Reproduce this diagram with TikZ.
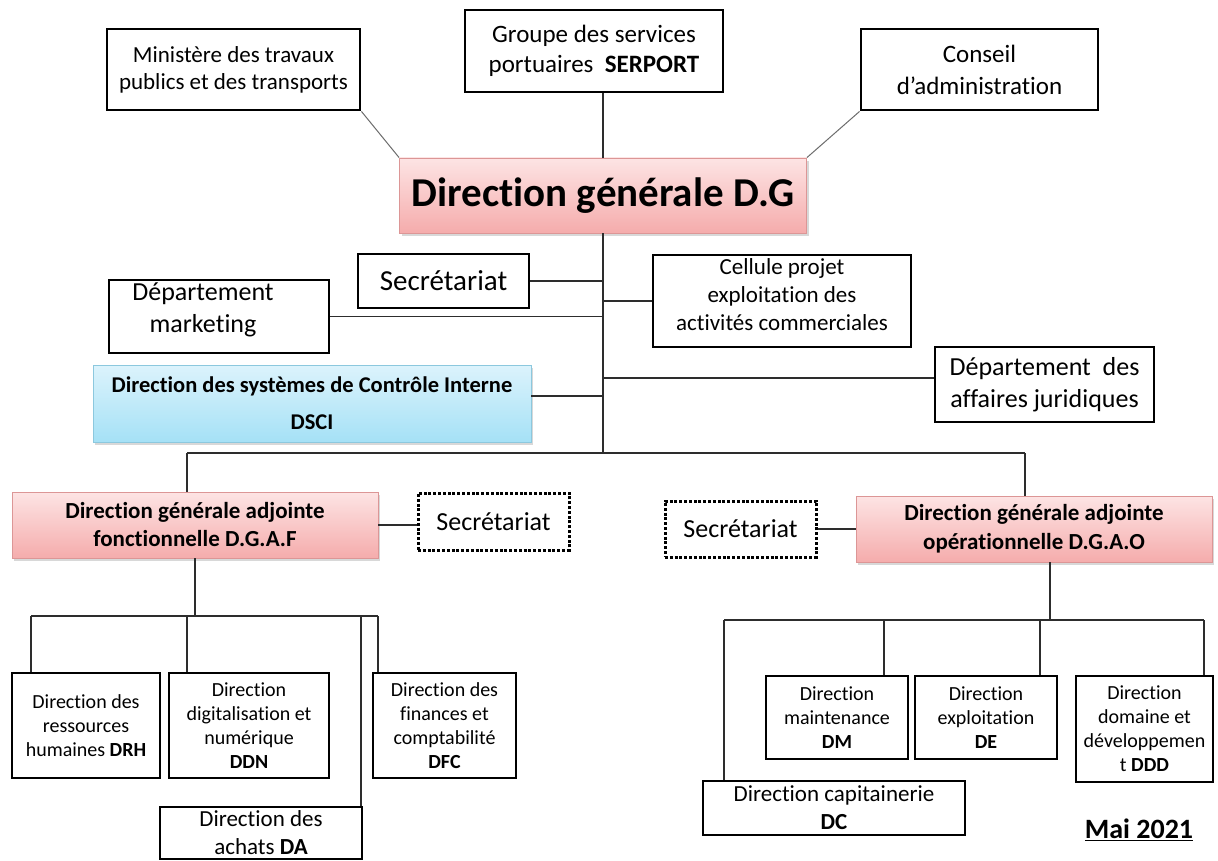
\documentclass[tikz,border=0pt]{standalone}
\usepackage{fontspec}
\setmainfont[Ligatures=NoCommon]{Carlito}
\usetikzlibrary{shadows,calc}
\definecolor{pinkT}{RGB}{253,228,228}
\definecolor{pinkB}{RGB}{245,172,172}
\definecolor{pinkD}{RGB}{220,150,150}
\definecolor{blueT}{RGB}{220,243,252}
\definecolor{blueB}{RGB}{165,225,246}
\definecolor{blueD}{RGB}{140,200,222}
\definecolor{lnc}{RGB}{45,45,45}
\newcommand\fsz[2]{\fontsize{#1}{#2}\selectfont}
\begin{document}
\begin{tikzpicture}[x=1pt,y=-1pt,
 box/.style={draw=black, line width=2.9pt, rectangle, inner sep=0pt, align=center},
 pinkbox/.style={rectangle, draw=pinkD, line width=0.8pt, top color=pinkT, bottom color=pinkB, align=center, inner sep=0pt, drop shadow={opacity=0.3, shadow xshift=2pt, shadow yshift=-3pt}},
 bluebox/.style={rectangle, draw=blueD, line width=0.8pt, top color=blueT, bottom color=blueB, align=center, inner sep=0pt, drop shadow={opacity=0.3, shadow xshift=2pt, shadow yshift=-3pt}},
 dotbox/.style={draw=black, line width=3pt, dash pattern=on 3pt off 1.8pt, rectangle, inner sep=0pt, align=center},
 conn/.style={draw=lnc, line width=1.3pt},
 diag/.style={draw=gray!85!black, line width=1pt},
]
\useasboundingbox (0,0) rectangle (1218,861);
\fill[white] (0,0) rectangle (1218,861);

% top
\node[box, minimum width=253pt, minimum height=81pt, font=\fsz{23}{27}] (min) at (233.5,69.5) {Ministère des travaux\\publics et des transports};
\node[box, minimum width=258pt, minimum height=82pt, font=\fsz{25}{30}] (grp) at (594,51) {Groupe des services\\portuaires~~\textbf{SERPORT}};
\node[box, minimum width=237pt, minimum height=81pt, font=\fsz{25}{32}] (cons) at (979.5,69.5) {Conseil\\d’administration};
\node[pinkbox, minimum width=407pt, minimum height=75pt, font=\fsz{41}{44}\bfseries] (dg) at (603,195.5) {Direction générale D.G};

\draw[diag] (min.south east) -- (dg.north west);
\draw[diag] (cons.south west) -- (dg.north east);
\draw[conn] (dg.north) -- (dg.north |- grp.south);

% staff
\node[box, minimum width=171pt, minimum height=54pt, font=\fsz{29}{34}] (sec1) at (443.5,281) {Secrétariat};
\node[box, minimum width=220pt, minimum height=73pt, label={[font=\fsz{26}{32}, align=center, xshift=-16pt, yshift=7pt]center:Département\\marketing}] (mkt) at (219,316.5) {};
\node[box, minimum width=258pt, minimum height=92pt, label={[font=\fsz{23}{28}, align=center, yshift=6pt]center:Cellule projet\\exploitation des\\activités commerciales}] (cel) at (782,301) {};
\node[box, minimum width=219pt, minimum height=75pt, font=\fsz{26}{32}] (jur) at (1044.5,384.5) {Département~ des\\affaires juridiques};
\node[bluebox, minimum width=438pt, minimum height=77pt, font=\fsz{22.5}{37}\bfseries] (dsci) at (312,403.5) {Direction des systèmes de Contrôle Interne\\DSCI};

\coordinate (bL) at (187,453);
\coordinate (bR) at (1025,453);
\draw[conn] (dg.south) -- (dg.south |- bL);
\draw[conn] (bL) -- (bR);
\draw[conn] (sec1.east) -- (sec1.east -| dg.south);
\draw[conn] (mkt.east) -- (mkt.east -| dg.south);
\draw[conn] (cel.west) -- (cel.west -| dg.south);
\draw[conn] ([yshift=6.5pt]jur.west) -- ([yshift=6.5pt]jur.west -| dg.south);
\draw[conn] ([yshift=7.5pt]dsci.east) -- ([yshift=7.5pt]dsci.east -| dg.south);

% deputies
\node[pinkbox, minimum width=366pt, minimum height=66pt, font=\fsz{23}{28}\bfseries] (dgaf) at (195,525) {Direction générale adjointe\\fonctionnelle D.G.A.F};
\node[dotbox, minimum width=151pt, minimum height=57pt, font=\fsz{26}{30}] (sec2) at (493.5,521.5) {Secrétariat};
\node[pinkbox, minimum width=356pt, minimum height=66pt, font=\fsz{23}{29}\bfseries] (dgao) at (1034,529) {Direction générale adjointe\\opérationnelle D.G.A.O};
\node[dotbox, minimum width=151pt, minimum height=56pt, font=\fsz{26}{30}] (sec3) at (740.5,529) {Secrétariat};

\draw[conn] (bL) -- (bL |- dgaf.north);
\draw[conn] (bR) -- (bR |- dgao.north);
\draw[conn] (dgaf.east) -- (sec2.west |- dgaf.east);
\draw[conn] (sec3.east) -- (dgao.west);

% left directorates
\node[box, minimum width=148pt, minimum height=105pt, font=\fsz{20}{24}] (drh) at (86,725.5) {Direction des\\ressources\\humaines \textbf{DRH}};
\node[box, minimum width=160pt, minimum height=105pt, font=\fsz{20}{24}] (ddn) at (249,725.5) {Direction\\digitalisation et\\numérique\\\textbf{DDN}};
\node[box, minimum width=143pt, minimum height=105pt, font=\fsz{20}{24}] (dfc) at (444.5,725.5) {Direction des\\finances et\\comptabilité\\\textbf{DFC}};
\node[box, minimum width=202pt, minimum height=52pt, font=\fsz{23}{28}] (da) at (261,833) {Direction des\\achats \textbf{DA}};

\coordinate (f1) at (31,616);
\coordinate (f2) at (187,616);
\coordinate (f3) at (361,616);
\coordinate (f4) at (378,616);
\draw[conn] (dgaf.south) -- (dgaf.south |- f1);
\draw[conn] (f1) -- (f4);
\draw[conn] (f1) -- (f1 |- drh.north);
\draw[conn] (f2) -- (f2 |- ddn.north);
\draw[conn] (f3) -- (f3 |- da.north);
\draw[conn] (f4) -- (f4 |- dfc.north);

% right directorates
\node[box, minimum width=142pt, minimum height=83pt, font=\fsz{20}{24}] (dm) at (837,717.5) {Direction\\maintenance\\\textbf{DM}};
\node[box, minimum width=142pt, minimum height=83pt, font=\fsz{20}{24}] (de) at (986,717.5) {Direction\\exploitation\\\textbf{DE}};
\node[box, minimum width=137pt, minimum height=106pt, font=\fsz{20}{24}] (ddd) at (1144.5,729) {Direction\\domaine et\\développemen\\t \textbf{DDD}};
\node[box, minimum width=262pt, minimum height=54pt, font=\fsz{23}{28}] (dc) at (834,808) {Direction capitainerie\\\textbf{DC}};

\coordinate (g1) at (724,620);
\coordinate (g2) at (884,620);
\coordinate (g3) at (1040,620);
\coordinate (g4) at (1204,620);
\draw[conn] ([xshift=16pt]dgao.south) -- ([xshift=16pt]dgao.south |- g1);
\draw[conn] (g1) -- (g4);
\draw[conn] (g1) -- (g1 |- dc.north);
\draw[conn] (g2) -- (g2 |- dm.north);
\draw[conn] (g3) -- (g3 |- de.north);
\draw[conn] (g4) -- (g4 |- ddd.north);

\node[font=\fsz{28}{32}\bfseries, inner sep=0pt] (mai) at (1139,830) {\underline{Mai 2021}};
\end{tikzpicture}
\end{document}
